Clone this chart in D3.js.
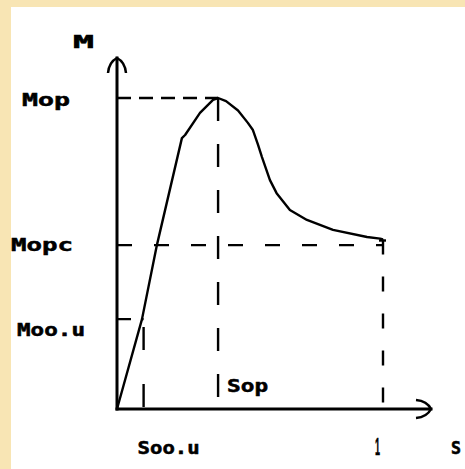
<!DOCTYPE html>
<html>
<head>
<meta charset="utf-8">
<script src="https://cdn.jsdelivr.net/npm/d3@7"></script>
<style>
  html, body { margin: 0; padding: 0; background: #f8e5b4; }
  svg { display: block; }
</style>
</head>
<body>
<svg id="chart" width="465" height="469"></svg>
<script>
// Torque–slip characteristic M(s)
const slip   = [0, 0.094, 0.150, 0.244, 0.256, 0.312, 0.361, 0.380, 0.410, 0.455, 0.492, 0.511, 0.530, 0.545, 0.575, 0.600, 0.650, 0.714, 0.812, 0.940, 0.989, 1.000];
const torque = [0, 0.289, 0.527, 0.871, 0.881, 0.952, 0.994, 1.000, 0.990, 0.960, 0.920, 0.897, 0.850, 0.810, 0.736, 0.694, 0.640, 0.608, 0.576, 0.553, 0.548, 0.545];

// Characteristic points on the axes
const yTickLabels = ["Mop", "Mopc", "Moo.u"];
const yTickValues = [1.000, 0.527, 0.289];
const xTickLabels = ["Soo.u", "Sop", "1"];
const xTickValues = [0.100, 0.380, 1.000];
const axisTitles  = ["M", "S"];

const svg = d3.select("#chart");

// white drawing sheet
svg.append("rect").attr("x", 11).attr("y", 7).attr("width", 454).attr("height", 462).attr("fill", "#ffffff");

const x = d3.scaleLinear().domain([0, 1]).range([117, 383]);
const y = d3.scaleLinear().domain([0, 1]).range([409, 98]);

const ink = "#000";

// dashed guide lines
const guides = svg.append("g").attr("stroke", ink).attr("stroke-width", 2.4).attr("fill", "none");
const endTorque = torque[torque.length - 1];
const guideSegs = [
  // Mop level to its slip
  { x1: 0, y1: yTickValues[0], x2: xTickValues[1], y2: yTickValues[0], dash: "14,8" },
  { x1: xTickValues[1], y1: yTickValues[0], x2: xTickValues[1], y2: 0, dash: "23,23" },
  // Mopc level across to s = 1
  { x1: 0, y1: yTickValues[1], x2: xTickValues[2], y2: yTickValues[1], dash: "15,22" },
  { x1: xTickValues[2], y1: endTorque, x2: xTickValues[2], y2: 0, dash: "15,22" },
  // Moo.u level to its slip
  { x1: 0, y1: yTickValues[2], x2: xTickValues[0], y2: yTickValues[2], dash: "14,10" },
  { x1: xTickValues[0], y1: yTickValues[2], x2: xTickValues[0], y2: 0, dash: "0,8,23,26" }
];
guides.selectAll("line").data(guideSegs).join("line")
  .attr("x1", d => x(d.x1)).attr("y1", d => y(d.y1))
  .attr("x2", d => x(d.x2)).attr("y2", d => y(d.y2))
  .attr("stroke-dasharray", d => d.dash);

// small end mark where the curve meets s = 1
guides.append("line")
  .attr("x1", x(1) - 4).attr("y1", y(endTorque) + 1)
  .attr("x2", x(1) + 3).attr("y2", y(endTorque) + 1);

// characteristic curve
const line = d3.line().x(d => x(d[0])).y(d => y(d[1])).curve(d3.curveLinear);
svg.append("path")
  .datum(d3.zip(slip, torque))
  .attr("d", line)
  .attr("fill", "none").attr("stroke", ink).attr("stroke-width", 2.4)
  .attr("stroke-linejoin", "round");

// axes with open arrow heads
const axes = svg.append("g").attr("stroke", ink).attr("stroke-width", 3).attr("fill", "none").attr("stroke-linecap", "square");
const yTop = y.invert(58), xEnd = x.invert(431);
axes.append("line").attr("x1", x(0)).attr("y1", y(0)).attr("x2", x(0)).attr("y2", y(yTop));
axes.append("line").attr("x1", x(0)).attr("y1", y(0)).attr("x2", x(xEnd)).attr("y2", y(0));
axes.append("path")
  .attr("stroke-width", 2.5).attr("stroke-linecap", "butt")
  .attr("d", `M${x(0) - 9},${y(yTop) + 15} Q${x(0) - 8},${y(yTop) + 4} ${x(0)},${y(yTop)} Q${x(0) + 8},${y(yTop) + 4} ${x(0) + 9},${y(yTop) + 15}`);
axes.append("path")
  .attr("stroke-width", 2.5).attr("stroke-linecap", "butt")
  .attr("d", `M${x(xEnd) - 15},${y(0) - 9} Q${x(xEnd) - 4},${y(0) - 8} ${x(xEnd)},${y(0)} Q${x(xEnd) - 4},${y(0) + 8} ${x(xEnd) - 15},${y(0) + 9}`);

// labels
const font = "'DejaVu Sans Mono', monospace";
const labels = svg.append("g").attr("fill", ink).attr("stroke", ink).attr("stroke-width", 0.5)
  .attr("font-family", font).attr("font-weight", "bold").attr("font-size", 17);

// label placement: left edge, baseline shift and stretched width
const yLabelLayout = [
  { left: 22, dy: 8,  width: 48 },
  { left: 11, dy: 6,  width: 62 },
  { left: 17, dy: 17, width: 68 }
];
labels.selectAll("text.ylab").data(yTickLabels).join("text")
  .attr("class", "ylab")
  .attr("x", (d, i) => yLabelLayout[i].left)
  .attr("y", (d, i) => y(yTickValues[i]) + yLabelLayout[i].dy)
  .attr("textLength", (d, i) => yLabelLayout[i].width)
  .attr("lengthAdjust", "spacingAndGlyphs")
  .text(d => d);

const xLabelLayout = [
  { dx: -6, top: 454, width: 62, family: font },
  { dx: 9,  top: 392, width: 41, family: font },
  { dx: -8, top: 455, width: 5,  family: "'Liberation Sans', sans-serif" }
];
labels.selectAll("text.xlab").data(xTickLabels).join("text")
  .attr("class", "xlab")
  .attr("x", (d, i) => x(xTickValues[i]) + xLabelLayout[i].dx)
  .attr("y", (d, i) => xLabelLayout[i].top)
  .attr("font-family", (d, i) => xLabelLayout[i].family)
  .attr("font-size", (d, i) => i === 2 ? 24 : 17)
  .attr("textLength", (d, i) => xLabelLayout[i].width)
  .attr("lengthAdjust", "spacingAndGlyphs")
  .text(d => d);

labels.append("text").attr("x", 73).attr("y", 48)
  .attr("textLength", 21).attr("lengthAdjust", "spacingAndGlyphs").text(axisTitles[0]);
labels.append("text").attr("x", 451).attr("y", 454)
  .attr("textLength", 10).attr("lengthAdjust", "spacingAndGlyphs").text(axisTitles[1]);
</script>
</body>
</html>
